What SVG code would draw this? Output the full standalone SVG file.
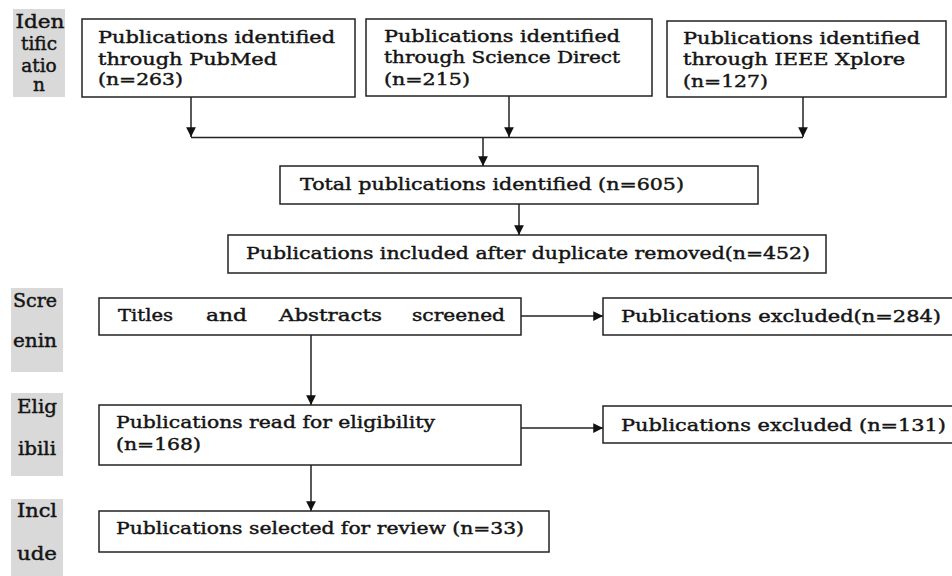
<svg xmlns="http://www.w3.org/2000/svg" width="952" height="576" viewBox="0 0 952 576">
<style>
  .box{fill:#fff;stroke:#222;stroke-width:1.5}
  .lab{fill:#d9d9d9}
  text{font-family:"DejaVu Serif","Liberation Serif",serif;font-size:17.5px;fill:#141414;stroke:#141414;stroke-width:0.45}
  .c{text-anchor:middle;font-size:18.5px}
  .ln{stroke:#222;stroke-width:1.5;fill:none}
  .ar{stroke:#222;stroke-width:1.5;fill:none;marker-end:url(#ah)}
</style>
<defs>
  <marker id="ah" viewBox="0 0 10 10" refX="10" refY="5" markerWidth="6.5" markerHeight="6.5" orient="auto" markerUnits="strokeWidth">
    <path d="M0,0 L10,5 L0,10 Z" fill="#111"/>
  </marker>
</defs>
<rect width="952" height="576" fill="#fff"/>

<g id="stage-identification">
  <rect class="lab" x="13" y="9" width="52" height="88"/>
  <text class="c" x="40" y="28" textLength="49" lengthAdjust="spacingAndGlyphs">Iden</text>
  <text class="c" x="39" y="50">tific</text>
  <text class="c" x="39" y="72">atio</text>
  <text class="c" x="39" y="91">n</text>
</g>
<g id="stage-screening">
  <rect class="lab" x="11" y="288" width="52" height="84"/>
  <text class="c" x="35" y="307" textLength="44" lengthAdjust="spacingAndGlyphs">Scre</text>
  <text class="c" x="35" y="347" textLength="44" lengthAdjust="spacingAndGlyphs">enin</text>
</g>
<g id="stage-eligibility">
  <rect class="lab" x="11" y="393" width="52" height="83"/>
  <text class="c" x="37" y="413" textLength="40" lengthAdjust="spacingAndGlyphs">Elig</text>
  <text class="c" x="37" y="455" textLength="38" lengthAdjust="spacingAndGlyphs">ibili</text>
</g>
<g id="stage-include">
  <rect class="lab" x="11" y="499" width="52" height="77"/>
  <text class="c" x="37" y="517" textLength="40" lengthAdjust="spacingAndGlyphs">Incl</text>
  <text class="c" x="37" y="560" textLength="40" lengthAdjust="spacingAndGlyphs">ude</text>
</g>

<g id="pubmed">
  <rect class="box" x="82" y="19" width="273" height="78"/>
  <text x="98" y="43" textLength="237" lengthAdjust="spacingAndGlyphs">Publications identified</text>
  <text x="98" y="65" textLength="179" lengthAdjust="spacingAndGlyphs">through PubMed</text>
  <text x="98" y="85" textLength="85" lengthAdjust="spacingAndGlyphs">(n=263)</text>
</g>
<g id="sciencedirect">
  <rect class="box" x="366" y="19" width="286" height="77"/>
  <text x="384" y="42" textLength="236" lengthAdjust="spacingAndGlyphs">Publications identified</text>
  <text x="384" y="63" textLength="236" lengthAdjust="spacingAndGlyphs">through Science Direct</text>
  <text x="384" y="85" textLength="86" lengthAdjust="spacingAndGlyphs">(n=215)</text>
</g>
<g id="ieee">
  <rect class="box" x="667" y="21" width="279" height="76"/>
  <text x="683" y="44" textLength="237" lengthAdjust="spacingAndGlyphs">Publications identified</text>
  <text x="683" y="65" textLength="222" lengthAdjust="spacingAndGlyphs">through IEEE Xplore</text>
  <text x="683" y="87" textLength="85" lengthAdjust="spacingAndGlyphs">(n=127)</text>
</g>
<g id="total">
  <rect class="box" x="280" y="166" width="478" height="38"/>
  <text x="300" y="190" textLength="384" lengthAdjust="spacingAndGlyphs">Total publications identified (n=605)</text>
</g>
<g id="deduplicated">
  <rect class="box" x="228" y="235" width="598" height="38"/>
  <text x="246" y="259" textLength="564" lengthAdjust="spacingAndGlyphs">Publications included after duplicate removed(n=452)</text>
</g>
<g id="screened">
  <rect class="box" x="99" y="298" width="422" height="37"/>
  <text x="118" y="321" textLength="55" lengthAdjust="spacingAndGlyphs">Titles</text>
  <text x="206" y="321" textLength="41" lengthAdjust="spacingAndGlyphs">and</text>
  <text x="279" y="321" textLength="103" lengthAdjust="spacingAndGlyphs">Abstracts</text>
  <text x="412" y="321" textLength="93" lengthAdjust="spacingAndGlyphs">screened</text>
</g>
<g id="excluded1">
  <rect class="box" x="603" y="298" width="360" height="37"/>
  <text x="621" y="322" textLength="320" lengthAdjust="spacingAndGlyphs">Publications excluded(n=284)</text>
</g>
<g id="eligibility">
  <rect class="box" x="99" y="405" width="422" height="60"/>
  <text x="116" y="428" textLength="319" lengthAdjust="spacingAndGlyphs">Publications read for eligibility</text>
  <text x="116" y="450" textLength="85" lengthAdjust="spacingAndGlyphs">(n=168)</text>
</g>
<g id="excluded2">
  <rect class="box" x="603" y="406" width="360" height="37"/>
  <text x="621" y="431" textLength="325" lengthAdjust="spacingAndGlyphs">Publications excluded (n=131)</text>
</g>
<g id="review">
  <rect class="box" x="99" y="511" width="450" height="41"/>
  <text x="116" y="534" textLength="408" lengthAdjust="spacingAndGlyphs">Publications selected for review (n=33)</text>
</g>

<g id="connectors">
  <line class="ar" x1="191" y1="97" x2="191" y2="137"/>
  <line class="ar" x1="509" y1="96" x2="509" y2="137"/>
  <line class="ar" x1="803" y1="97" x2="803" y2="137"/>
  <line class="ln" x1="191" y1="137.5" x2="803" y2="137.5"/>
  <line class="ar" x1="483" y1="137" x2="483" y2="166"/>
  <line class="ar" x1="519" y1="204" x2="519" y2="235"/>
  <line class="ar" x1="521" y1="316" x2="603" y2="316"/>
  <line class="ar" x1="311" y1="335" x2="311" y2="405"/>
  <line class="ar" x1="521" y1="428" x2="603" y2="428"/>
  <line class="ar" x1="311" y1="465" x2="311" y2="511"/>
</g>
</svg>
